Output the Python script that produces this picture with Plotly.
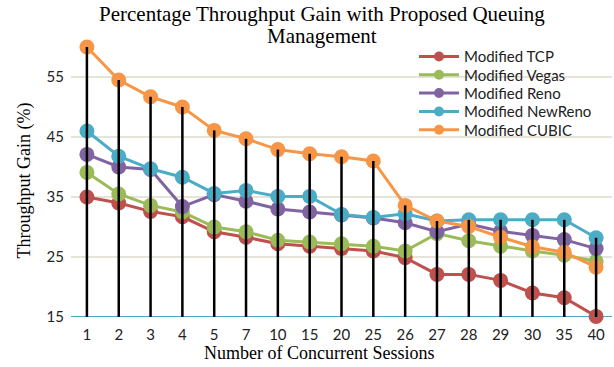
import plotly.graph_objects as go

sessions = ["1", "2", "3", "4", "5", "7", "10", "15", "20", "25", "26", "27", "28", "29", "30", "35", "40"]
tcp     = [35.0, 34.0, 32.6, 31.7, 29.2, 28.3, 27.2, 26.8, 26.4, 26.0, 24.9, 22.1, 22.1, 21.1, 19.0, 18.2, 15.1]
vegas   = [39.1, 35.5, 33.6, 32.5, 30.0, 29.2, 27.8, 27.5, 27.2, 26.8, 26.0, 28.9, 27.7, 26.8, 26.0, 25.3, 24.3]
reno    = [42.1, 40.0, 39.6, 33.4, 35.4, 34.3, 33.0, 32.5, 32.0, 31.5, 30.7, 29.2, 30.5, 29.3, 28.6, 27.9, 26.4]
newreno = [46.0, 41.8, 39.7, 38.3, 35.6, 36.1, 35.1, 35.1, 32.1, 31.6, 32.2, 31.0, 31.2, 31.2, 31.2, 31.2, 28.2]
cubic   = [60.0, 54.5, 51.7, 50.0, 46.1, 44.7, 42.9, 42.2, 41.7, 41.0, 33.6, 31.0, 30.1, 28.3, 26.7, 25.8, 23.3]

names = ["Modified TCP", "Modified Vegas", "Modified Reno", "Modified NewReno", "Modified CUBIC"]
colors = ["#C0504D", "#9BBB59", "#8064A2", "#4BACC6", "#F79646"]
series = [tcp, vegas, reno, newreno, cubic]
y_min = 15
y_ticks = [15, 25, 35, 45, 55]

fig = go.Figure()
for name, col, vals in zip(names, colors, series):
    fig.add_trace(go.Scatter(x=sessions, y=vals, mode="lines+markers", name=name,
                             line=dict(color=col, width=3), marker=dict(color=col, size=15),
                             showlegend=False, cliponaxis=False))

# drop lines from highest value to axis
dx, dy = [], []
for i, s in enumerate(sessions):
    top = max(v[i] for v in series)
    dx += [s, s, None]
    dy += [top, y_min, None]
fig.add_trace(go.Scatter(x=dx, y=dy, mode="lines", line=dict(color="black", width=2.5),
                         showlegend=False, hoverinfo="skip"))

serif = "Liberation Serif"
sans = "Lato"
W, H = 614, 367
l, r, t, b = 71, 2, 29, 50
pw, ph = W - l - r, H - t - b

def px2paper(wx, wy):
    return (wx - l) / pw, 1 - (wy - t) / ph

# legend entries (one legend per row for exact spacing)
row_y = [56.7, 75.0, 93.3, 111.7, 130.0]
legends = {}
for k, (name, col) in enumerate(zip(names, colors)):
    key = "legend" if k == 0 else f"legend{k+1}"
    fig.add_trace(go.Scatter(x=[None], y=[None], mode="lines+markers", name=name, legend=key,
                             line=dict(color=col, width=3), marker=dict(color=col, size=10)))
    lx, ly = px2paper(414, row_y[k])
    legends[key] = dict(x=lx, y=ly, xanchor="left", yanchor="middle", bgcolor="rgba(0,0,0,0)",
                        font=dict(family=sans, size=15, color="#222"), itemwidth=40)

t1x, t1y = px2paper(321.5, 13.5)
t2x, t2y = px2paper(322, 36.5)
xx, xy = px2paper(318.5, 353)
yx, yy = px2paper(23.5, 181)

fig.update_layout(
    width=W, height=H,
    margin=dict(l=l, r=r, t=t, b=b, autoexpand=False),
    paper_bgcolor="white", plot_bgcolor="white",
    showlegend=True,
    xaxis=dict(type="category", range=[-0.5, len(sessions) - 0.5], showgrid=False, showline=False,
               zeroline=False, ticks="", automargin=False,
               tickfont=dict(family=sans, size=15, color="#222"), ticklabelstandoff=7),
    yaxis=dict(range=[15, 63], tickvals=y_ticks, showgrid=True, gridcolor="#E6E4D8",
               gridwidth=1.5, zeroline=False, showline=False, ticks="", automargin=False,
               tickfont=dict(family=sans, size=15, color="#222"), ticklabelstandoff=6),
    annotations=[
        dict(text="Percentage Throughput Gain with Proposed Queuing", x=t1x, y=t1y,
             xref="paper", yref="paper", showarrow=False, xanchor="center", yanchor="middle",
             font=dict(family=serif, size=21, color="black")),
        dict(text="Management", x=t2x, y=t2y,
             xref="paper", yref="paper", showarrow=False, xanchor="center", yanchor="middle",
             font=dict(family=serif, size=21, color="black")),
        dict(text="Number of Concurrent Sessions", x=xx, y=xy, xref="paper", yref="paper",
             showarrow=False, xanchor="center", yanchor="middle",
             font=dict(family=serif, size=18, color="black")),
        dict(text="Throughput Gain (%)", x=yx, y=yy, xref="paper", yref="paper",
             showarrow=False, textangle=-90, xanchor="center", yanchor="middle",
             font=dict(family=serif, size=18, color="black")),
    ],
    **legends,
)

# axis baseline in light blue at 15
fig.add_shape(type="line", xref="paper", yref="y", x0=0, x1=1, y0=y_min, y1=y_min,
              line=dict(color="#4BACC6", width=2), layer="below")

fig.write_html("out.html", config={"displayModeBar": False},
               post_script="document.body.style.margin='0px';document.body.style.overflow='hidden';")
